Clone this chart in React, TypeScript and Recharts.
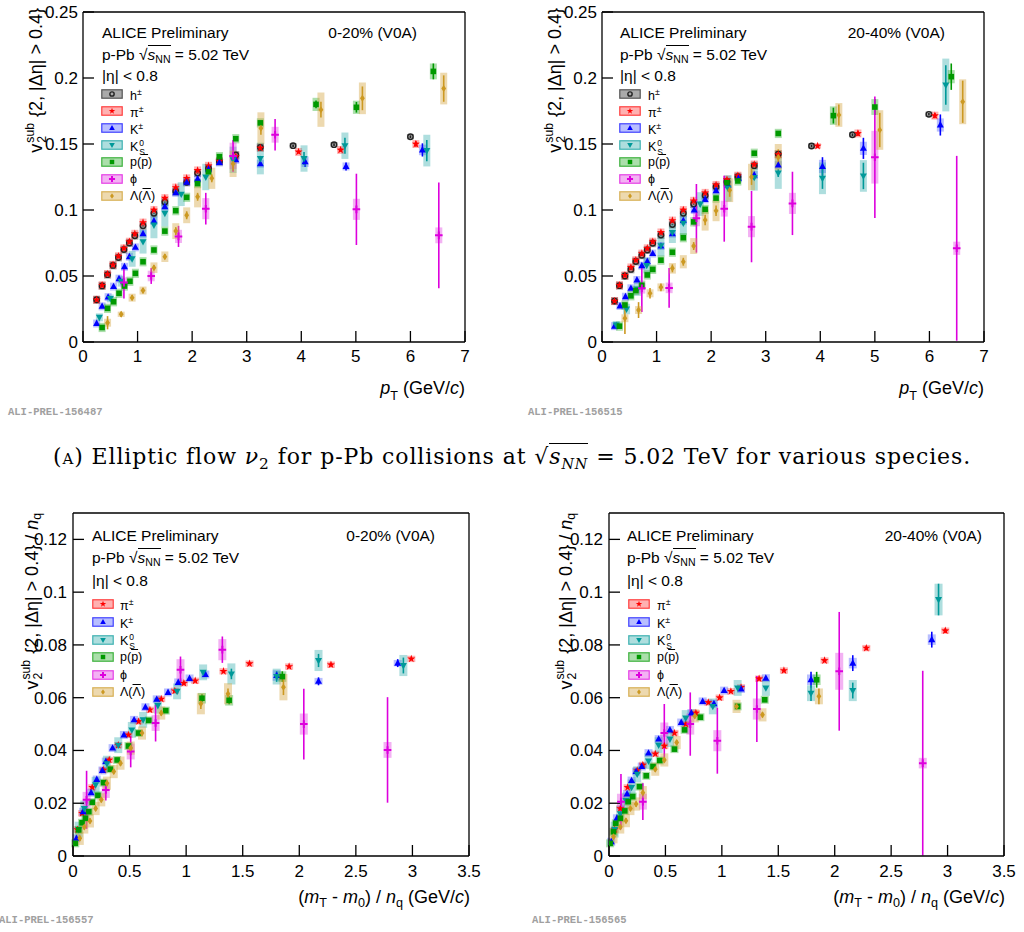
import React from 'react';
import { ScatterChart, Scatter, XAxis, YAxis, ErrorBar } from 'recharts';

// points are [x, y, stat, sys]; stat / sys fall back to the series default when left out
type P = number[];

// ---------- top row: v2 vs pT, 0-20% ----------
const TL_H: P[] = [[0.25,0.032],[0.35,0.0425],[0.45,0.051],[0.55,0.058],[0.65,0.064],[0.75,0.07],[0.85,0.075],[0.95,0.0805],[1.1,0.088],[1.3,0.0975],[1.5,0.106],[1.7,0.114],[1.9,0.121],[2.1,0.128],[2.3,0.1315],[2.5,0.1366],[2.8,0.1417],[3.25,0.1475],[3.85,0.1487,0.001,0.002],[4.6,0.1495,0.001,0.002],[6.0,0.1555,0.001,0.002]];
const TL_PI: P[] = [[0.25,0.032],[0.35,0.043],[0.45,0.0515],[0.55,0.0585],[0.65,0.065],[0.75,0.071],[0.85,0.076],[0.95,0.082],[1.1,0.0905],[1.3,0.1],[1.5,0.109],[1.7,0.117],[1.9,0.124],[2.1,0.13],[2.3,0.1335],[2.5,0.137],[2.8,0.1405],[3.25,0.147],[3.95,0.144,0.001,0.003],[4.72,0.1455,0.001,0.003],[6.1,0.15,0.002,0.003]];
const TL_K: P[] = [[0.25,0.014],[0.35,0.027],[0.46,0.034],[0.56,0.042],[0.66,0.048],[0.76,0.057],[0.85,0.0646],[0.96,0.0717],[1.1,0.082],[1.3,0.0917],[1.5,0.1025],[1.7,0.113],[1.9,0.121],[2.1,0.1235],[2.3,0.131],[2.5,0.136],[2.8,0.138],[3.25,0.135],[4.07,0.1366,0.004,0.004],[4.82,0.133,0.003,0.003],[6.22,0.1455,0.005,0.004]];
const TL_K0: P[] = [[0.3,0.0187,0.001,0.003],[0.5,0.033,0.001,0.003],[0.7,0.046,0.001,0.004],[0.9,0.063,0.001,0.006],[1.1,0.076,0.001,0.009],[1.3,0.0886,0.001,0.01],[1.5,0.0975,0.001,0.01],[1.8,0.112,0.001,0.009],[2.25,0.125,0.001,0.01],[2.75,0.138,0.002,0.01],[3.25,0.139,0.002,0.012],[4.05,0.139,0.005,0.01],[4.8,0.1487,0.006,0.01],[6.3,0.145,0.008,0.012]];
const TL_P: P[] = [[0.35,0.011],[0.45,0.0255],[0.56,0.0305],[0.66,0.0369],[0.76,0.0424],[0.86,0.046],[0.96,0.052],[1.1,0.0608],[1.3,0.0697],[1.5,0.084],[1.7,0.0995],[1.9,0.1096],[2.1,0.12],[2.3,0.129],[2.5,0.1404],[2.8,0.154],[3.25,0.166],[4.27,0.18,0.003,0.005],[5.01,0.1778,0.004,0.005],[6.42,0.205,0.006,0.006]];
const TL_PHI: P[] = [[0.75,0.045,0.012,0.004],[1.25,0.05,0.006,0.004],[1.75,0.08,0.008,0.005],[2.25,0.101,0.012,0.008],[2.75,0.141,0.012,0.01],[3.52,0.157,0.012,0.006],[5.01,0.1005,0.027,0.008],[6.52,0.0808,0.04,0.006]];
const TL_LAM: P[] = [[0.45,0.0146,0.005,0.003],[0.7,0.021,0.002,0.002],[0.9,0.0336,0.002,0.003],[1.1,0.039,0.002,0.003],[1.3,0.0563,0.002,0.004],[1.5,0.0646,0.002,0.004],[1.7,0.084,0.003,0.006],[1.9,0.096,0.003,0.006],[2.1,0.11,0.003,0.008],[2.36,0.124,0.003,0.008],[2.75,0.135,0.005,0.01],[3.26,0.162,0.005,0.012],[4.36,0.176,0.006,0.013],[5.12,0.1846,0.009,0.012],[6.61,0.192,0.01,0.012]];

// ---------- top row: v2 vs pT, 20-40% ----------
const TR_H: P[] = [[0.23,0.031],[0.32,0.0427],[0.42,0.05],[0.53,0.055],[0.62,0.061],[0.73,0.0657],[0.83,0.0697],[0.93,0.0748],[1.08,0.081],[1.29,0.089],[1.49,0.0975],[1.68,0.1045],[1.89,0.111],[2.09,0.1177],[2.29,0.1214],[2.49,0.1252],[2.79,0.1336],[3.23,0.1424],[3.84,0.1485,0.001,0.002],[4.59,0.157,0.001,0.002],[5.99,0.1725,0.001,0.002]];
const TR_PI: P[] = [[0.23,0.031],[0.32,0.043],[0.42,0.0505],[0.53,0.0565],[0.62,0.062],[0.73,0.067],[0.83,0.071],[0.93,0.076],[1.08,0.083],[1.29,0.092],[1.49,0.1],[1.68,0.107],[1.89,0.113],[2.09,0.119],[2.29,0.123],[2.49,0.126],[2.79,0.1345],[3.23,0.142],[3.95,0.1485,0.001,0.002],[4.69,0.158,0.002,0.003],[6.1,0.1715,0.002,0.003]];
const TR_K: P[] = [[0.23,0.012],[0.33,0.0273],[0.43,0.0343],[0.53,0.0407],[0.64,0.047],[0.73,0.0578],[0.83,0.061],[0.93,0.067],[1.08,0.0727],[1.29,0.082],[1.49,0.092],[1.69,0.1],[1.89,0.108],[2.09,0.1146],[2.31,0.119],[2.5,0.124],[2.79,0.1265],[3.23,0.134],[4.04,0.133,0.007,0.005],[4.79,0.1467,0.008,0.005],[6.2,0.1644,0.008,0.005]];
const TR_K0: P[] = [[0.26,0.0129,0.002,0.003],[0.45,0.025,0.001,0.004],[0.65,0.04,0.001,0.005],[0.82,0.058,0.001,0.006],[1.08,0.073,0.001,0.008],[1.29,0.083,0.001,0.008],[1.49,0.09,0.001,0.009],[1.8,0.1045,0.002,0.009],[2.31,0.1164,0.002,0.01],[2.79,0.1247,0.002,0.01],[3.23,0.128,0.003,0.012],[4.04,0.124,0.008,0.012],[4.79,0.1258,0.01,0.012],[6.3,0.1947,0.015,0.02]];
const TR_P: P[] = [[0.32,0.012],[0.42,0.028],[0.53,0.035],[0.62,0.039],[0.73,0.043],[0.83,0.0508],[0.93,0.055],[1.08,0.062],[1.29,0.068],[1.49,0.079],[1.68,0.091],[1.89,0.1005],[2.09,0.109],[2.29,0.1207],[2.49,0.122],[2.79,0.143],[3.23,0.158],[4.24,0.1715,0.006,0.007],[5.0,0.178,0.006,0.006],[6.4,0.201,0.01,0.005]];
const TR_PHI: P[] = [[0.73,0.0407,0.018,0.004],[1.23,0.041,0.015,0.004],[1.73,0.0937,0.026,0.006],[2.24,0.101,0.025,0.006],[2.74,0.0874,0.027,0.008],[3.49,0.105,0.024,0.008],[5.0,0.14,0.046,0.02],[6.5,0.071,0.07,0.005]];
const TR_LAM: P[] = [[0.42,0.018,0.012,0.003],[0.67,0.0242,0.006,0.003],[0.88,0.0369,0.004,0.003],[1.08,0.0414,0.003,0.003],[1.29,0.0558,0.003,0.004],[1.49,0.0608,0.003,0.005],[1.68,0.0727,0.003,0.006],[1.89,0.0924,0.004,0.008],[2.09,0.0995,0.004,0.008],[2.34,0.115,0.005,0.009],[2.74,0.125,0.006,0.01],[3.23,0.14,0.006,0.01],[4.34,0.172,0.008,0.009],[5.09,0.1606,0.013,0.015],[6.61,0.182,0.016,0.017]];

// ---------- bottom row: v2/nq vs KET/nq, 0-20% ----------
const BL_PI: P[] = [[0.04,0.01],[0.08,0.0162],[0.17,0.026],[0.27,0.0326],[0.32,0.0364],[0.4,0.042],[0.49,0.0459],[0.58,0.051],[0.68,0.0554],[0.78,0.0595],[0.9,0.0626],[0.98,0.0655],[1.08,0.0664],[1.33,0.07],[1.56,0.0729],[1.91,0.0718],[2.28,0.0725],[2.99,0.0747]];
const BL_K: P[] = [[0.03,0.0067],[0.09,0.0168],[0.16,0.024],[0.21,0.029],[0.26,0.0324],[0.29,0.0358],[0.35,0.0409],[0.45,0.0459],[0.54,0.0516],[0.64,0.0564],[0.74,0.0594],[0.84,0.062],[0.93,0.0658],[1.03,0.0673],[1.17,0.0688],[1.8,0.0684,0.0015,0.002],[2.17,0.0662,0.0015,0.0013],[2.87,0.0731,0.0015,0.0012]];
const BL_K0: P[] = [[0.05,0.01],[0.1,0.018],[0.2,0.027],[0.3,0.035],[0.4,0.042],[0.52,0.0478],[0.62,0.0516],[0.75,0.057],[0.92,0.0624],[1.15,0.0696],[1.4,0.069,0.002,0.004],[1.8,0.068,0.002,0.003],[2.17,0.0741,0.0025,0.004],[2.92,0.0722,0.003,0.004]];
const BL_P: P[] = [[0.02,0.0048],[0.05,0.0099],[0.08,0.0126],[0.11,0.0143],[0.14,0.0168],[0.17,0.0204],[0.22,0.023],[0.27,0.0278],[0.33,0.0329],[0.39,0.0364],[0.49,0.0417],[0.58,0.0466],[0.67,0.0514],[0.82,0.0551],[1.14,0.0598,0.0015,0.002],[1.38,0.059,0.0015,0.002],[1.85,0.068,0.002,0.002]];
const BL_PHI: P[] = [[0.12,0.0213,0.011,0.003],[0.29,0.025,0.004,0.003],[0.51,0.0396,0.006,0.003],[0.73,0.0504,0.007,0.003],[0.95,0.0706,0.005,0.004],[1.32,0.0782,0.005,0.004],[2.04,0.05,0.0134,0.004],[2.78,0.0402,0.02,0.003]];
const BL_LAM: P[] = [[0.06,0.0067],[0.1,0.011],[0.15,0.0133],[0.2,0.018],[0.25,0.0213],[0.3,0.0276],[0.36,0.032],[0.42,0.0352],[0.51,0.0409],[0.61,0.0466],[0.78,0.0542],[1.13,0.0577,0.002,0.004],[1.37,0.0615,0.002,0.004],[1.86,0.064,0.003,0.005]];

// ---------- bottom row: v2/nq vs KET/nq, 20-40% ----------
const BR_PI: P[] = [[0.05,0.01],[0.1,0.018],[0.165,0.026],[0.25,0.0324],[0.3,0.0345],[0.41,0.0387],[0.49,0.0417],[0.58,0.0466],[0.68,0.05],[0.77,0.0542],[0.88,0.0582],[0.98,0.06],[1.08,0.0624],[1.17,0.0639],[1.33,0.0672],[1.55,0.0703],[1.91,0.0741,0.0005,0.0012],[2.28,0.0788,0.0008,0.0012],[2.98,0.0854,0.0008,0.0012]];
const BR_K: P[] = [[0.02,0.0054],[0.07,0.0143],[0.16,0.0235],[0.2,0.0286],[0.24,0.032],[0.29,0.0339],[0.35,0.039],[0.44,0.0443],[0.54,0.0478],[0.64,0.0506],[0.73,0.0542],[0.83,0.0586],[0.93,0.0577],[1.02,0.0627],[1.17,0.0633],[1.39,0.0674],[1.79,0.0668,0.003,0.002],[2.16,0.0731,0.003,0.002],[2.86,0.082,0.003,0.002]];
const BR_K0: P[] = [[0.05,0.01],[0.1,0.016],[0.15,0.021],[0.2,0.026],[0.25,0.031],[0.35,0.036],[0.44,0.042],[0.54,0.0443],[0.68,0.0523],[0.92,0.0567],[1.14,0.0637],[1.39,0.0637],[1.79,0.0617,0.003,0.003],[2.16,0.0627,0.003,0.004],[2.92,0.0972,0.006,0.006]];
const BR_P: P[] = [[0.01,0.0048],[0.04,0.0092],[0.06,0.0124],[0.1,0.0143],[0.14,0.0171],[0.17,0.0206],[0.21,0.0225],[0.27,0.0263],[0.33,0.0304],[0.39,0.0339],[0.45,0.0362],[0.58,0.0405],[0.67,0.0478],[0.81,0.0526],[1.14,0.0567],[1.38,0.0592],[1.84,0.0668,0.003,0.002]];
const BR_PHI: P[] = [[0.106,0.0206,0.0105,0.003],[0.3,0.0206,0.007,0.003],[0.49,0.0466,0.011,0.004],[0.72,0.05,0.012,0.004],[0.96,0.0437,0.0125,0.004],[1.31,0.0557,0.0125,0.004],[2.04,0.07,0.0225,0.007],[2.78,0.0352,0.035,0.002]];
const BR_LAM: P[] = [[0.04,0.0073],[0.1,0.011],[0.15,0.0134],[0.19,0.018],[0.24,0.0197],[0.3,0.024],[0.41,0.0329],[0.49,0.0364],[0.6,0.043],[0.76,0.0531],[1.13,0.0567],[1.36,0.0535],[1.86,0.0605,0.003,0.003]];

// axis ticks
const PT_TICKS = [0, 1, 2, 3, 4, 5, 6, 7];
const V2_TICKS = [0, 0.05, 0.1, 0.15, 0.2, 0.25];
const KE_TICKS = [0, 0.5, 1, 1.5, 2, 2.5, 3, 3.5];
const V2NQ_TICKS = [0, 0.02, 0.04, 0.06, 0.08, 0.1, 0.12];

const FONT = '"Liberation Sans", Arial, Helvetica, sans-serif';

type Kind = 'h' | 'pi' | 'k' | 'k0' | 'p' | 'phi' | 'lam';

const STYLE: Record<Kind, { c: string; box: string; op: number }> = {
  h:   { c: '#222222', box: '#555555', op: 0.5 },
  pi:  { c: '#ff0000', box: '#ff3333', op: 0.38 },
  k:   { c: '#0000ff', box: '#3344ff', op: 0.35 },
  k0:  { c: '#009999', box: '#2aa8a8', op: 0.38 },
  p:   { c: '#009900', box: '#22aa22', op: 0.38 },
  phi: { c: '#dd00dd', box: '#dd22dd', op: 0.35 },
  lam: { c: '#cc9922', box: '#d4a440', op: 0.42 },
};

const steps = (a: number, b: number, st: number) => {
  const out: number[] = [];
  for (let v = a; v <= b + 1e-9; v += st) out.push(Math.round(v * 1e4) / 1e4);
  return out;
};

const rows = (pts: P[], st: number, sy: number) =>
  pts.map(([x, y, s, e]) => ({ x, y, stat: s ?? st, sys: e ?? sy }));

function mark(kind: Kind, cx: number, cy: number, s = 1) {
  const c = STYLE[kind].c;
  switch (kind) {
    case 'h':
      return <circle cx={cx} cy={cy} r={2.7 * s} fill="none" stroke={c} strokeWidth={1.4} />;
    case 'pi': {
      const pts: string[] = [];
      for (let i = 0; i < 10; i++) {
        const a = -Math.PI / 2 + (i * Math.PI) / 5;
        const r = (i % 2 ? 1.7 : 4.2) * s;
        pts.push(`${cx + r * Math.cos(a)},${cy + r * Math.sin(a)}`);
      }
      return <polygon points={pts.join(' ')} fill={c} />;
    }
    case 'k':
      return <polygon points={`${cx},${cy - 3.9 * s} ${cx + 3.5 * s},${cy + 2.5 * s} ${cx - 3.5 * s},${cy + 2.5 * s}`} fill={c} />;
    case 'k0':
      return <polygon points={`${cx},${cy + 3.9 * s} ${cx + 3.5 * s},${cy - 2.5 * s} ${cx - 3.5 * s},${cy - 2.5 * s}`} fill={c} />;
    case 'p':
      return <rect x={cx - 2.8 * s} y={cy - 2.8 * s} width={5.6 * s} height={5.6 * s} fill={c} />;
    case 'phi':
      return <path d={`M${cx - 3.8 * s},${cy}H${cx + 3.8 * s}M${cx},${cy - 3.8 * s}V${cy + 3.8 * s}`} stroke={c} strokeWidth={2} />;
    case 'lam':
      return <polygon points={`${cx},${cy - 3.5 * s} ${cx + 2.4 * s},${cy} ${cx},${cy + 3.5 * s} ${cx - 2.4 * s},${cy}`} fill={c} />;
  }
}

const DEF: Record<Kind, [number, number]> = {
  h: [0.0005, 0.003], pi: [0.0006, 0.003], k: [0.0008, 0.003], k0: [0.001, 0.006],
  p: [0.001, 0.0035], phi: [0.005, 0.004], lam: [0.002, 0.006],
};
const DEF_NQ: Record<Kind, [number, number]> = {
  h: [0.0003, 0.0012], pi: [0.0003, 0.0012], k: [0.0004, 0.0015], k0: [0.0006, 0.003],
  p: [0.0005, 0.0015], phi: [0.004, 0.003], lam: [0.001, 0.0025],
};

type Cfg = {
  left: number; top: number; w: number; h: number;
  plot: [number, number, number, number]; // x0, y0, x1, y1 in page px
  xd: [number, number]; yd: [number, number];
  xt: number[]; xmin: number[]; yt: number[]; ymin: number[];
  xm: number; ym: number; bw: number;
  series: [Kind, P[]][]; defs: Record<Kind, [number, number]>;
};

function Panel({ c }: { c: Cfg }) {
  const [x0, y0, x1, y1] = c.plot;
  const margin = {
    top: y0 - c.top - 2,
    left: x0 - c.left - 2,
    right: c.left + c.w - x1 - 2,
    bottom: c.top + c.h - y1 - 2,
  };
  const lbl = { fill: '#000', fontSize: 17, fontFamily: FONT };
  const base = { type: 'number' as const, allowDataOverflow: true, interval: 0 as const, stroke: '#000', strokeWidth: 1.3 };
  return (
    <div style={{ position: 'absolute', left: c.left, top: c.top }}>
      <ScatterChart width={c.w} height={c.h} margin={margin}>
        <XAxis xAxisId="x" dataKey="x" domain={c.xd} ticks={c.xt} height={1} tickSize={-11} tickMargin={c.xm} tick={lbl} {...base} />
        <XAxis xAxisId="xbm" domain={c.xd} ticks={c.xmin} height={1} tickSize={-5.5} tick={false} axisLine={false} {...base} />
        <XAxis xAxisId="xt" orientation="top" domain={c.xd} ticks={c.xt} height={1} tickSize={-11} tick={false} {...base} />
        <XAxis xAxisId="xtm" orientation="top" domain={c.xd} ticks={c.xmin} height={1} tickSize={-5.5} tick={false} axisLine={false} {...base} />
        <YAxis yAxisId="y" dataKey="y" domain={c.yd} ticks={c.yt} width={1} tickSize={-11} tickMargin={c.ym} tick={lbl} {...base} />
        <YAxis yAxisId="ylm" domain={c.yd} ticks={c.ymin} width={1} tickSize={-5.5} tick={false} axisLine={false} {...base} />
        <YAxis yAxisId="yr" orientation="right" domain={c.yd} ticks={c.yt} width={1} tickSize={-11} tick={false} {...base} />
        <YAxis yAxisId="yrm" orientation="right" domain={c.yd} ticks={c.ymin} width={1} tickSize={-5.5} tick={false} axisLine={false} {...base} />
        {c.series.map(([k, pts]) => (
          <Scatter
            key={k}
            xAxisId="x"
            yAxisId="y"
            data={rows(pts, c.defs[k][0], c.defs[k][1])}
            isAnimationActive={false}
            shape={(p: any) => mark(k, p.cx, p.cy)}
          >
            <ErrorBar dataKey="sys" direction="y" width={0} stroke={STYLE[k].box} strokeOpacity={STYLE[k].op} strokeWidth={c.bw} />
            <ErrorBar dataKey="stat" direction="y" width={0} stroke={STYLE[k].c} strokeWidth={1.6} />
          </Scatter>
        ))}
      </ScatterChart>
    </div>
  );
}

// sup over sub, like ROOT's #it{v}_{2}^{sub}
const Stack = ({ sup, sub }: { sup: React.ReactNode; sub: React.ReactNode }) => (
  <span style={{ display: 'inline-flex', flexDirection: 'column', verticalAlign: '0.62em', fontSize: '0.68em', lineHeight: 1, margin: '0 1px' }}>
    <span>{sup}</span>
    <span>{sub}</span>
  </span>
);

const Over = ({ children }: { children: React.ReactNode }) => (
  <span style={{ textDecoration: 'overline' }}>{children}</span>
);

const SNN = () => (
  <span style={{ whiteSpace: 'nowrap' }}>
    <span>√</span>
    <span style={{ borderTop: '1px solid #000' }}>
      <i>s</i>
      <span style={{ fontSize: '0.68em', verticalAlign: '-0.3em' }}>NN</span>
    </span>
  </span>
);

const LABEL: Record<Kind, React.ReactNode> = {
  h: <>h<sup style={{ fontSize: '0.7em' }}>±</sup></>,
  pi: <>π<sup style={{ fontSize: '0.7em' }}>±</sup></>,
  k: <>K<sup style={{ fontSize: '0.7em' }}>±</sup></>,
  k0: <>K<Stack sup="0" sub="S" /></>,
  p: <>p(<Over>p</Over>)</>,
  phi: <>ϕ</>,
  lam: <>Λ(<Over>Λ</Over>)</>,
};

function Txt({ x, base, size, children, right }: { x: number; base: number; size: number; children: React.ReactNode; right?: boolean }) {
  const st: React.CSSProperties = {
    position: 'absolute', top: base - 0.85 * size, fontSize: size, lineHeight: 1,
    fontFamily: FONT, whiteSpace: 'nowrap', color: '#000',
  };
  if (right) st.right = 1024 - x; else st.left = x;
  return <div style={st}>{children}</div>;
}

function Legend({ x, y, step, kinds, tx }: { x: number; y: number; step: number; kinds: Kind[]; tx: number }) {
  return (
    <>
      {kinds.map((k, i) => (
        <React.Fragment key={k}>
          <svg style={{ position: 'absolute', left: x, top: y + i * step - 5 }} width={22} height={10}>
            <rect x={0.75} y={0.75} width={20.5} height={8.5} fill={STYLE[k].box} fillOpacity={STYLE[k].op} stroke={STYLE[k].c} strokeOpacity={0.7} strokeWidth={1.2} />
            {mark(k, 11, 5, 0.8)}
          </svg>
          <Txt x={tx} base={y + i * step + 4.5} size={12.5}>{LABEL[k]}</Txt>
        </React.Fragment>
      ))}
    </>
  );
}

function YTitle({ x, end, nq }: { x: number; end: number; nq?: boolean }) {
  return (
    <div style={{
      position: 'absolute', left: x, top: end, transformOrigin: 'top left',
      transform: 'rotate(-90deg) translateX(-100%)', fontFamily: FONT, fontSize: 18,
      whiteSpace: 'nowrap', lineHeight: 1.3,
    }}>
      v<Stack sup="sub" sub="2" /> {'{'}2, |Δη| &gt; 0.4{'}'}
      {nq && <> / <i>n</i><span style={{ fontSize: '0.68em', verticalAlign: '-0.3em' }}>q</span></>}
    </div>
  );
}

const Ali = ({ x, y, id }: { x: number; y: number; id: string }) => (
  <div style={{ position: 'absolute', left: x, top: y - 6, fontFamily: '"Liberation Mono", monospace', fontWeight: 'bold', fontSize: 10.5, color: '#a0a0a0', whiteSpace: 'nowrap' }}>
    {id}
  </div>
);

const TOP_KINDS: Kind[] = ['h', 'pi', 'k', 'k0', 'p', 'phi', 'lam'];
const BOT_KINDS: Kind[] = ['pi', 'k', 'k0', 'p', 'phi', 'lam'];

const PANELS: Cfg[] = [
  {
    left: 0, top: 0, w: 512, h: 420, plot: [83, 12, 465, 342], xd: [0, 7], yd: [0, 0.25],
    xt: PT_TICKS, xmin: steps(0, 7, 0.2), yt: V2_TICKS, ymin: steps(0, 0.25, 0.01), xm: 19, ym: 16, bw: 7,
    series: [['h', TL_H], ['pi', TL_PI], ['k', TL_K], ['k0', TL_K0], ['p', TL_P], ['phi', TL_PHI], ['lam', TL_LAM]], defs: DEF,
  },
  {
    left: 512, top: 0, w: 512, h: 420, plot: [602, 12, 984, 342], xd: [0, 7], yd: [0, 0.25],
    xt: PT_TICKS, xmin: steps(0, 7, 0.2), yt: V2_TICKS, ymin: steps(0, 0.25, 0.01), xm: 19, ym: 16, bw: 7,
    series: [['h', TR_H], ['pi', TR_PI], ['k', TR_K], ['k0', TR_K0], ['p', TR_P], ['phi', TR_PHI], ['lam', TR_LAM]], defs: DEF,
  },
  {
    left: 0, top: 490, w: 512, h: 440, plot: [73, 513, 469, 856], xd: [0, 3.5], yd: [0, 0.13],
    xt: KE_TICKS, xmin: steps(0, 3.5, 0.1), yt: V2NQ_TICKS, ymin: steps(0, 0.13, 0.005), xm: 20, ym: 17, bw: 8,
    series: [['pi', BL_PI], ['k', BL_K], ['k0', BL_K0], ['p', BL_P], ['phi', BL_PHI], ['lam', BL_LAM]], defs: DEF_NQ,
  },
  {
    left: 512, top: 490, w: 512, h: 440, plot: [609, 513, 1004, 856], xd: [0, 3.5], yd: [0, 0.13],
    xt: KE_TICKS, xmin: steps(0, 3.5, 0.1), yt: V2NQ_TICKS, ymin: steps(0, 0.13, 0.005), xm: 20, ym: 17, bw: 8,
    series: [['pi', BR_PI], ['k', BR_K], ['k0', BR_K0], ['p', BR_P], ['phi', BR_PHI], ['lam', BR_LAM]], defs: DEF_NQ,
  },
];

const PtTitle = () => (
  <><i>p</i><span style={{ fontSize: '0.7em', verticalAlign: '-0.45em' }}>T</span> (GeV/<i>c</i>)</>
);
const KeTitle = () => (
  <>(<i>m</i><span style={{ fontSize: '0.7em', verticalAlign: '-0.35em' }}>T</span> - <i>m</i><span style={{ fontSize: '0.7em', verticalAlign: '-0.35em' }}>0</span>) / <i>n</i><span style={{ fontSize: '0.7em', verticalAlign: '-0.35em' }}>q</span> (GeV/<i>c</i>)</>
);

export default function App() {
  return (
    <div style={{ position: 'absolute', left: 0, top: 0, width: 1024, height: 932, background: '#fff', overflow: 'hidden' }}>
      {PANELS.map((c, i) => <Panel key={i} c={c} />)}

      {/* top-left texts */}
      <Txt x={102} base={38} size={15.5}>ALICE Preliminary</Txt>
      <Txt x={102} base={60} size={15.5}>p-Pb <SNN /> = 5.02 TeV</Txt>
      <Txt x={102} base={81} size={15.5}>|η| &lt; 0.8</Txt>
      <Txt x={417} base={38} size={15.5} right>0-20% (V0A)</Txt>
      <Legend x={101} y={94.3} step={17} kinds={TOP_KINDS} tx={130} />
      <YTitle x={24} end={8} />
      <Txt x={465} base={394} size={18} right><PtTitle /></Txt>
      <Ali x={8} y={412} id="ALI-PREL-156487" />

      {/* top-right texts */}
      <Txt x={620} base={38} size={15.5}>ALICE Preliminary</Txt>
      <Txt x={620} base={60} size={15.5}>p-Pb <SNN /> = 5.02 TeV</Txt>
      <Txt x={620} base={81} size={15.5}>|η| &lt; 0.8</Txt>
      <Txt x={945} base={38} size={15.5} right>20-40% (V0A)</Txt>
      <Legend x={619} y={94.3} step={17} kinds={TOP_KINDS} tx={648} />
      <YTitle x={543} end={8} />
      <Txt x={984} base={394} size={18} right><PtTitle /></Txt>
      <Ali x={528} y={412} id="ALI-PREL-156515" />

      {/* caption */}
      <div style={{ position: 'absolute', left: 0, width: 1024, top: 444, textAlign: 'center', fontFamily: '"DejaVu Serif", serif', fontSize: 22, letterSpacing: 0.9, whiteSpace: 'nowrap', color: '#000' }}>
        (<span style={{ fontVariant: 'small-caps' }}>a</span>) Elliptic flow <i>ν</i><sub style={{ fontSize: '0.7em' }}>2</sub> for p-Pb collisions at √<span style={{ borderTop: '1px solid #000' }}><i>s</i><sub style={{ fontSize: '0.65em' }}><i>NN</i></sub></span> = 5.02 TeV for various species.
      </div>

      {/* bottom-left texts */}
      <Txt x={92} base={541} size={15.5}>ALICE Preliminary</Txt>
      <Txt x={92} base={563} size={15.5}>p-Pb <SNN /> = 5.02 TeV</Txt>
      <Txt x={92} base={586} size={15.5}>|η| &lt; 0.8</Txt>
      <Txt x={435} base={541} size={15.5} right>0-20% (V0A)</Txt>
      <Legend x={92} y={604.3} step={17.6} kinds={BOT_KINDS} tx={120} />
      <YTitle x={20} end={513} nq />
      <Txt x={470} base={903} size={18} right><KeTitle /></Txt>
      <Ali x={-1} y={920} id="ALI-PREL-156557" />

      {/* bottom-right texts */}
      <Txt x={627} base={541} size={15.5}>ALICE Preliminary</Txt>
      <Txt x={627} base={563} size={15.5}>p-Pb <SNN /> = 5.02 TeV</Txt>
      <Txt x={627} base={586} size={15.5}>|η| &lt; 0.8</Txt>
      <Txt x={982} base={541} size={15.5} right>20-40% (V0A)</Txt>
      <Legend x={628} y={604.3} step={17.6} kinds={BOT_KINDS} tx={657} />
      <YTitle x={554} end={513} nq />
      <Txt x={1005} base={903} size={18} right><KeTitle /></Txt>
      <Ali x={532} y={920} id="ALI-PREL-156565" />
    </div>
  );
}
